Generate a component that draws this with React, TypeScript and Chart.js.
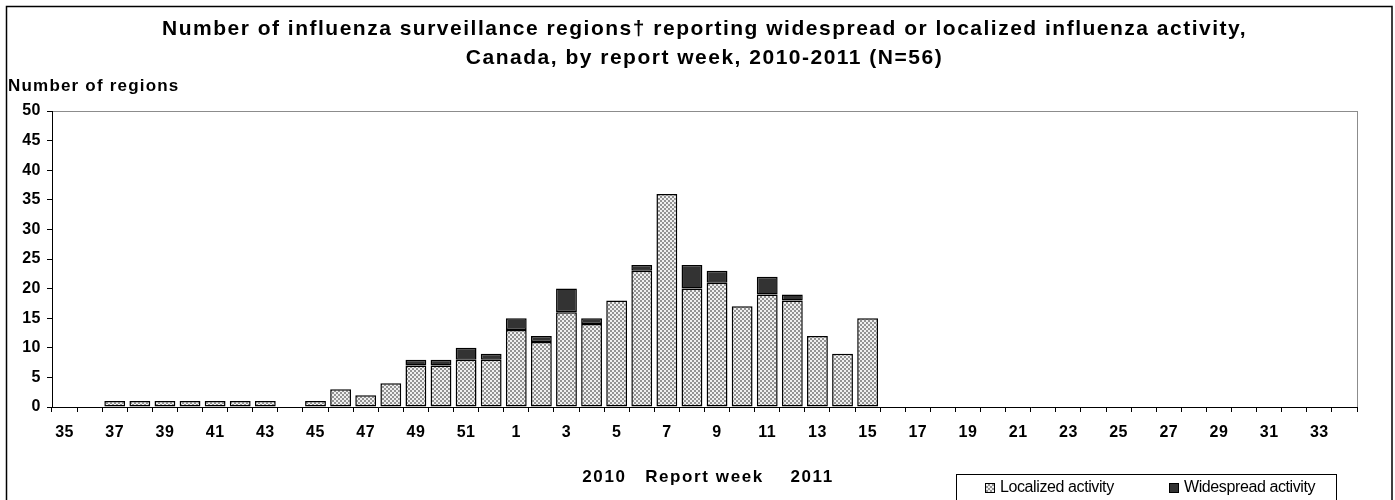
import React, { useEffect, useRef } from 'react';
import { Chart, registerables } from 'chart.js';

Chart.register(...registerables);

const weeks = ['35', '36', '37', '38', '39', '40', '41', '42', '43', '44', '45', '46', '47', '48', '49', '50', '51', '52',
  '1', '2', '3', '4', '5', '6', '7', '8', '9', '10', '11', '12', '13', '14', '15', '16', '17', '18', '19', '20',
  '21', '22', '23', '24', '25', '26', '27', '28', '29', '30', '31', '32', '33', '34'];

const localized = [0, 0, 1, 1, 1, 1, 1, 1, 1, 0, 1, 3, 2, 4, 7, 7, 8, 8,
  13, 11, 16, 14, 18, 23, 36, 20, 21, 17, 19, 18, 12, 9, 15, 0, 0, 0, 0, 0,
  0, 0, 0, 0, 0, 0, 0, 0, 0, 0, 0, 0, 0, 0];

const widespread = [0, 0, 0, 0, 0, 0, 0, 0, 0, 0, 0, 0, 0, 0, 1, 1, 2, 1,
  2, 1, 4, 1, 0, 1, 0, 4, 2, 0, 3, 1, 0, 0, 0, 0, 0, 0, 0, 0,
  0, 0, 0, 0, 0, 0, 0, 0, 0, 0, 0, 0, 0, 0];

const titleLines = [
  'Number of influenza surveillance regions† reporting widespread or localized influenza activity,',
  'Canada, by report week, 2010-2011 (N=56)',
];
const yAxisTitle = 'Number of regions';
const xAxisTitleParts = ['2010', 'Report week', '2011'];
const legendLabels = ['Localized activity', 'Widespread activity'];

const FONT = '"Liberation Sans", Arial, Helvetica, sans-serif';

function makePattern(): CanvasPattern | string {
  const c = document.createElement('canvas');
  c.width = 4;
  c.height = 4;
  const g = c.getContext('2d');
  if (!g) return '#c8c8c8';
  g.fillStyle = '#f0f0f0';
  g.fillRect(0, 0, 4, 4);
  g.fillStyle = '#939393';
  g.fillRect(0, 0, 2, 2);
  g.fillRect(2, 2, 2, 2);
  const p = g.createPattern(c, 'repeat');
  return p || '#c8c8c8';
}

export default function App() {
  const ref = useRef<HTMLCanvasElement | null>(null);

  useEffect(() => {
    const canvas = ref.current;
    if (!canvas) return;
    const pattern = makePattern();
    const darkColor = '#333333';

    const decor = {
      id: 'decor',
      beforeDraw(chart: any) {
        const { ctx, chartArea: a } = chart;
        ctx.save();
        ctx.fillStyle = '#ffffff';
        ctx.fillRect(0, 0, chart.width, chart.height);
        ctx.strokeStyle = '#000000';
        ctx.lineWidth = 1.5;
        ctx.strokeRect(6.5, 6.5, 1385.5, chart.height + 20);
        ctx.strokeStyle = '#8c8c8c';
        ctx.lineWidth = 1;
        ctx.strokeRect(a.left + 0.5, a.top + 0.5, a.right - a.left, a.bottom - a.top);
        ctx.restore();
        ctx.letterSpacing = '0.5px';
      },
      afterDraw(chart: any) {
        const { ctx, chartArea: a } = chart;
        const cx = (a.left + a.right) / 2;
        ctx.save();
        ctx.fillStyle = '#000000';
        // Title
        ctx.font = `bold 21px ${FONT}`;
        ctx.letterSpacing = '1.5px';
        ctx.textAlign = 'center';
        ctx.textBaseline = 'middle';
        ctx.fillText(titleLines[0], cx, 29);
        ctx.fillText(titleLines[1], cx, 58);
        // Y axis title
        ctx.font = `bold 17px ${FONT}`;
        ctx.letterSpacing = '1.2px';
        ctx.textAlign = 'left';
        ctx.textBaseline = 'middle';
        ctx.fillText(yAxisTitle, 8, 86);
        // X axis title
        ctx.letterSpacing = '1.6px';
        ctx.textBaseline = 'middle';
        ctx.textAlign = 'right';
        ctx.fillText(xAxisTitleParts[0], cx - 78, 477);
        ctx.textAlign = 'center';
        ctx.fillText(xAxisTitleParts[1], cx, 477);
        ctx.textAlign = 'left';
        ctx.fillText(xAxisTitleParts[2], cx + 86, 477);
        // Legend
        const lx = 956.5, ly = 474.5, lw = 380, lh = 40;
        ctx.fillStyle = '#ffffff';
        ctx.fillRect(lx, ly, lw, lh);
        ctx.strokeStyle = '#000000';
        ctx.lineWidth = 1;
        ctx.strokeRect(lx, ly, lw, lh);
        const items = [
          { x: 985, label: legendLabels[0], fill: pattern },
          { x: 1169, label: legendLabels[1], fill: darkColor },
        ];
        ctx.font = `16px ${FONT}`;
        ctx.letterSpacing = '-0.4px';
        ctx.textBaseline = 'middle';
        ctx.textAlign = 'left';
        for (const it of items) {
          ctx.fillStyle = it.fill as any;
          ctx.fillRect(it.x + 0.5, 483.5, 9, 9);
          ctx.strokeStyle = '#000000';
          ctx.lineWidth = 1;
          ctx.strokeRect(it.x + 0.5, 483.5, 9, 9);
          ctx.fillStyle = '#000000';
          ctx.fillText(it.label, it.x + 15, 488);
        }
        ctx.restore();
        ctx.letterSpacing = '0px';
      },
    };

    const chart = new Chart(canvas, {
      type: 'bar',
      data: {
        labels: weeks,
        datasets: [
          {
            label: legendLabels[0],
            data: localized,
            backgroundColor: pattern as any,
            borderColor: '#000000',
            borderWidth: 1.5,
            borderSkipped: false,
            barPercentage: 0.83,
            categoryPercentage: 1,
          },
          {
            label: legendLabels[1],
            data: widespread,
            backgroundColor: darkColor,
            borderColor: '#000000',
            borderWidth: 1.5,
            borderSkipped: false,
            barPercentage: 0.83,
            categoryPercentage: 1,
          },
        ],
      },
      options: {
        responsive: false,
        animation: false,
        devicePixelRatio: 1,
        events: [],
        layout: { padding: { top: 111, right: 38, left: 0, bottom: 0 } },
        plugins: {
          legend: { display: false },
          title: { display: false },
          tooltip: { enabled: false },
        },
        scales: {
          x: {
            stacked: true,
            afterFit: (s: any) => { s.height = 93; },
            grid: {
              offset: true,
              drawOnChartArea: false,
              drawTicks: true,
              tickLength: 5,
              color: '#000000',
            },
            border: { display: true, color: '#000000', width: 1 },
            ticks: {
              autoSkip: false,
              maxRotation: 0,
              minRotation: 0,
              padding: 11,
              color: '#000000',
              font: { family: FONT, size: 16, weight: 'bold' },
              callback: (_v: any, i: number) => (i % 2 === 0 ? weeks[i] : ''),
            },
          },
          y: {
            stacked: true,
            min: 0,
            max: 50,
            afterFit: (s: any) => { s.width = 52; },
            grid: {
              drawOnChartArea: false,
              drawTicks: true,
              tickLength: 5,
              color: '#000000',
            },
            border: { display: true, color: '#000000', width: 1 },
            ticks: {
              stepSize: 5,
              padding: 6,
              color: '#000000',
              font: { family: FONT, size: 16, weight: 'bold' },
            },
          },
        },
      },
      plugins: [decor],
    });

    return () => chart.destroy();
  }, []);

  return (
    <div style={{ position: 'absolute', left: 0, top: 0, width: 1395, height: 500, background: '#fff' }}>
      <canvas ref={ref} width={1395} height={500} />
    </div>
  );
}
